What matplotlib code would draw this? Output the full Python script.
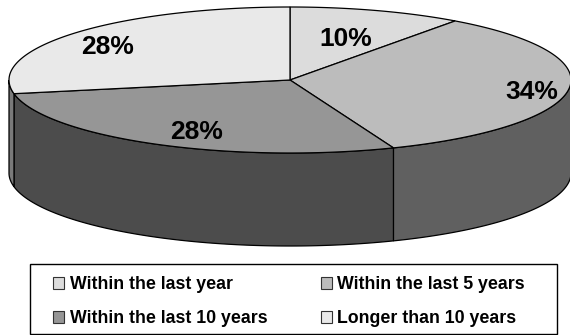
import numpy as np
import matplotlib
matplotlib.use("Agg")
import matplotlib.pyplot as plt
from matplotlib.patches import Patch, Polygon, Rectangle

labels = ["Within the last year", "Within the last 5 years",
          "Within the last 10 years", "Longer than 10 years"]
values = [10, 34, 28, 28]
top_colors = ["#dcdcdc", "#bcbcbc", "#969696", "#e9e9e9"]
side_colors = ["#6e6e6e", "#606060", "#4c4c4c", "#7a7a7a"]
label_pos = [(346, 38.5), (532, 92), (197, 132), (108, 47)]

cx, cy = 290, 80
rx, ry = 281, 73
depth = 93

plt.rcParams["font.family"] = ["Liberation Sans", "DejaVu Sans"]


def rim(t):
    # t is degrees clockwise from twelve o'clock on the squashed ellipse
    t = np.radians(t)
    return cx + rx * np.sin(t), cy - ry * np.cos(t)


fig = plt.figure(figsize=(5.7, 3.35), dpi=100)
ax = fig.add_axes([0, 0, 1, 1])
ax.set_xlim(0, 570)
ax.set_ylim(335, 0)
ax.axis("off")

edges = np.cumsum([0] + values) * 3.6
for i in range(len(values)):
    start, end = edges[i], edges[i + 1]

    # side wall, only the part facing the viewer
    s, e = max(start, 90), min(end, 270)
    if s < e:
        t = np.linspace(s, e, 100)
        x, y = rim(t)
        pts = np.r_[np.c_[x, y], np.c_[x, y + depth][::-1]]
        ax.add_patch(Polygon(pts, closed=True, fc=side_colors[i], ec="black", lw=0.9))

    # top face
    t = np.linspace(start, end, 150)
    x, y = rim(t)
    pts = np.r_[[[cx, cy]], np.c_[x, y]]
    ax.add_patch(Polygon(pts, closed=True, fc=top_colors[i], ec="black", lw=0.9, zorder=3))

for v, (x, y) in zip(values, label_pos):
    ax.text(x, y, f"{v}%", ha="center", va="center", fontsize=19,
            fontweight="bold", color="black", zorder=4)

# legend frame is wider than its entries, so it gets its own rectangle
ax.add_patch(Rectangle((29.5, 264), 527.5, 70, fc="white", ec="black", lw=1.0))

handles = [Patch(fc=c, ec="#333333", lw=0.8) for c in top_colors]
# two columns, filled row by row
order = [0, 2, 1, 3]
leg = ax.legend([handles[i] for i in order], [labels[i] for i in order], ncol=2,
                loc="upper left", bbox_to_anchor=(53 / 570, 1 - 276 / 335),
                frameon=False, prop={"weight": "bold", "size": 12.8},
                handlelength=0.62, handleheight=0.62, handletextpad=0.32,
                columnspacing=3.0, labelspacing=0.97, borderpad=0, borderaxespad=0)

fig.savefig("out.png", dpi=100)
